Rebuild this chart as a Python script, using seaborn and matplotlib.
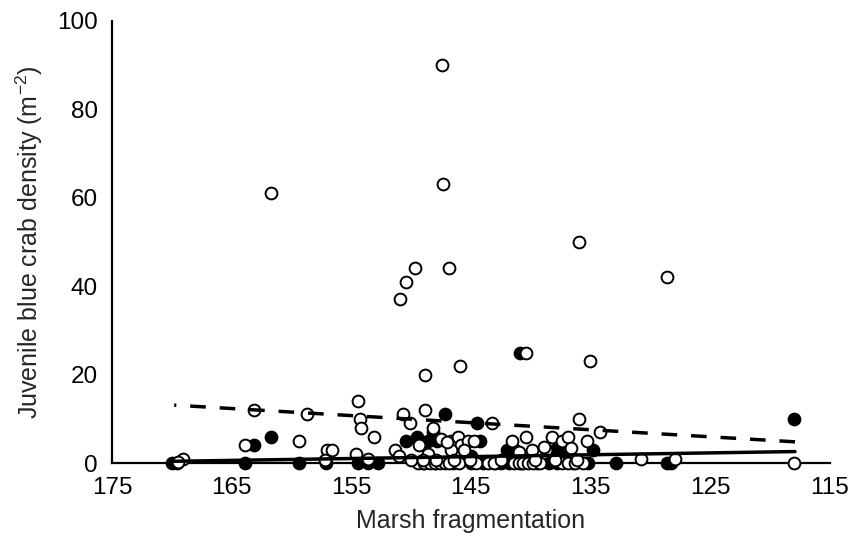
import matplotlib
matplotlib.use("Agg")
import matplotlib.pyplot as plt
import seaborn as sns

# open circles
open_x = [147.4, 147.3, 161.7, 136.0, 149.7, 146.8, 150.4, 150.9, 128.6, 140.4, 135.0, 145.9, 148.8,
          163.1, 158.7, 154.4, 154.3, 154.2, 153.1, 159.4, 163.9, 157.0, 156.6, 154.6, 153.6, 151.3,
          150.7, 150.1, 148.8, 148.2, 149.3, 148.6, 143.2, 146.7, 146.1, 145.8, 145.2, 144.7, 145.6,
          146.7, 141.6, 140.4, 139.9, 138.7, 138.2, 137.4, 136.9, 136.0, 134.2, 135.3, 141.0, 138.9,
          136.6, 151.0, 147.5, 147.0,
          169.1, 169.5, 130.8, 127.9, 118.0,
          149.4, 148.9, 148.4, 148.0, 147.6, 147.2, 146.8, 146.0, 144.6, 143.6, 143.1, 141.4, 141.0,
          140.6, 140.2, 139.8, 139.2, 137.4, 136.9, 136.3, 135.6,
          157.2, 150.0, 149.0, 147.9, 146.4, 145.1, 142.5, 139.6, 138.0, 136.1]
open_y = [90, 63, 61, 50, 44, 44, 41, 37, 42, 25, 23, 22, 20,
          12, 11, 14, 10, 8, 6, 5, 4, 3, 3, 2, 1, 3,
          11, 9, 12, 8, 4, 2, 9, 5, 6, 4, 5, 5, 3,
          3, 5, 6, 3, 3, 6, 5, 6, 10, 7, 5, 2.6, 3.7,
          3.3, 1.5, 5.5, 4.8,
          1, 0.3, 1, 1, 0,
          0, 0, 0, 0, 0, 0, 0, 0, 0, 0, 0, 0, 0,
          0, 0, 0, 0, 0, 0, 0, 0,
          0.7, 0.7, 0.7, 0.7, 0.7, 0.7, 0.7, 0.7, 0.7, 0.7]

# filled circles
filled_x = [140.9, 161.7, 163.1, 147.2, 144.5, 148.2, 150.4, 149.5, 144.2, 142.0, 137.0, 134.8,
            118.0, 148.6, 147.8, 145.0, 141.3, 138.0,
            170.0, 169.6, 163.9, 159.4, 157.1, 154.4, 153.6, 152.8, 149.0, 148.0, 146.5, 145.0,
            144.0, 143.0, 142.5, 141.8, 140.8, 139.5, 138.5, 137.8, 136.5, 135.2, 132.9, 128.6, 128.3]
filled_y = [25, 6, 4, 11, 9, 7, 5, 6, 5, 3, 3, 3,
            10, 5, 5, 1.5, 3, 3,
            0, 0, 0, 0, 0, 0, 0, 0, 0, 0, 0, 0,
            0, 0, 0, 0, 0, 0, 0, 0, 0, 0, 0, 0, 0]

# trend line end points
trend_x = [169.8, 117.9]
trend_dashed = [13.1, 4.8]
trend_solid = [0.4, 2.6]

x_ticks = [175, 165, 155, 145, 135, 125, 115]
y_ticks = [0, 20, 40, 60, 80, 100]


def plot_chart():
    sns.set_style("white")
    plt.rcParams["font.family"] = ["Liberation Sans", "DejaVu Sans"]
    plt.rcParams["mathtext.default"] = "regular"

    fig = plt.figure(figsize=(8.51, 5.48), dpi=100)
    ax = fig.add_axes([0.1316, 0.155, 0.8434, 0.807])

    sns.scatterplot(x=filled_x, y=filled_y, color="black", edgecolor="black",
                    linewidth=1.4, s=72, clip_on=False, zorder=3, ax=ax)
    sns.scatterplot(x=open_x, y=open_y, color="white", edgecolor="black",
                    linewidth=1.4, s=72, clip_on=False, zorder=4, ax=ax)

    sns.lineplot(x=trend_x, y=trend_dashed, color="black", linewidth=2.5,
                 linestyle=(0, (4.5, 4)), zorder=5, ax=ax)
    sns.lineplot(x=trend_x, y=trend_solid, color="black", linewidth=2.5,
                 zorder=5, clip_on=False, ax=ax)

    ax.set_xlim(175, 115)
    ax.set_ylim(0, 100)
    ax.set_xticks(x_ticks)
    ax.set_yticks(y_ticks)
    sns.despine(ax=ax)
    for s in ["left", "bottom"]:
        ax.spines[s].set_linewidth(1.6)
        ax.spines[s].set_color("black")
    ax.tick_params(axis="both", direction="out", length=6, width=1.6,
                   labelsize=17.5, colors="black", pad=4)

    ax.set_xlabel("Marsh fragmentation", fontsize=18, labelpad=7)
    ax.set_ylabel("Juvenile blue crab density (m$^{-2}$)", fontsize=18, labelpad=9)

    fig.savefig("out.png", dpi=100)


if __name__ == "__main__":
    plot_chart()
